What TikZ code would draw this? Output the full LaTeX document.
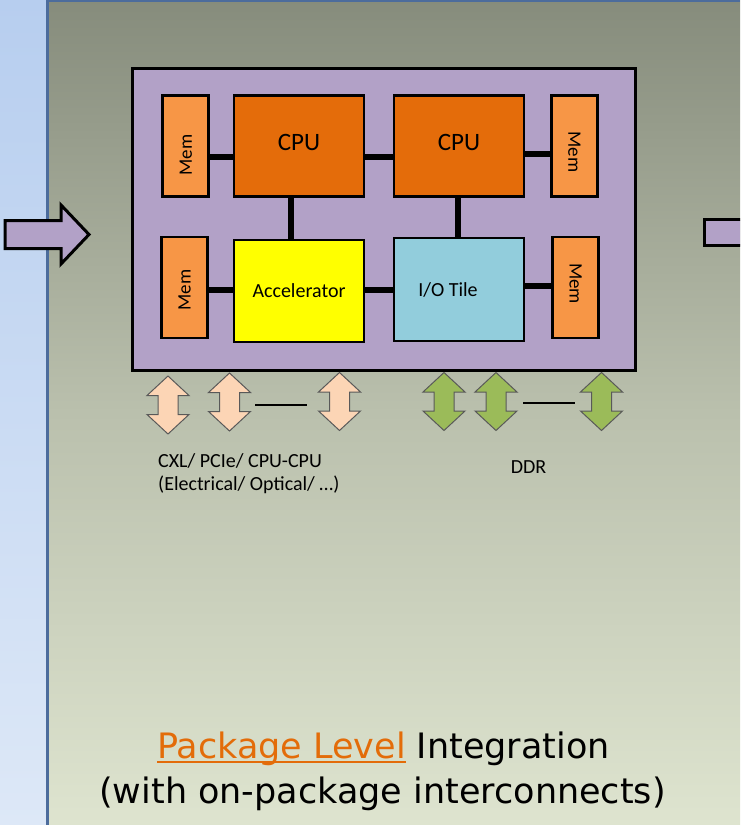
\documentclass[tikz,border=0pt]{standalone}
\usepackage{fontspec}
\setmainfont{Carlito}
\newfontfamily\dejavu{DejaVu Sans}

\definecolor{stripTop}{RGB}{183,206,239}
\definecolor{stripBot}{RGB}{221,232,247}
\definecolor{panelTop}{RGB}{134,140,124}
\definecolor{panelMid}{RGB}{186,192,173}
\definecolor{panelBot}{RGB}{222,228,207}
\definecolor{edgeBlue}{RGB}{76,108,156}
\definecolor{pkgPurple}{RGB}{178,161,199}
\definecolor{cpuOrange}{RGB}{228,108,10}
\definecolor{memOrange}{RGB}{247,150,70}
\definecolor{accYellow}{RGB}{255,255,0}
\definecolor{ioBlue}{RGB}{146,205,220}
\definecolor{peach}{RGB}{252,213,181}
\definecolor{ddrGreen}{RGB}{155,187,89}
\definecolor{titleOrange}{RGB}{227,108,9}

% orange, underlined words of the caption
\newcommand{\ulorange}[1]{{\sbox0{\color{titleOrange}#1}%
  \rlap{\color{titleOrange}\rule[-5pt]{\wd0}{2pt}}\usebox0}}

\tikzset{
  block/.style={draw=black, line width=2.6pt, inner sep=0pt},
  cpubox/.style={block, fill=cpuOrange, minimum width=130pt, minimum height=101pt,
    font=\fontsize{25}{30}\selectfont, text depth=6.5pt},
  tilebox/.style={block, minimum width=130pt, minimum height=101pt,
    font=\fontsize{20}{24}\selectfont},
  membox/.style={block, fill=memOrange, minimum width=101pt, minimum height=46pt,
    font=\fontsize{19}{23}\selectfont},
  link/.style={line width=6pt, draw=black},
  dash link/.style={line width=1.1pt, draw=black},
  peacharrow/.style={fill=peach, draw=black!65, line width=1pt, line join=miter},
  greenarrow/.style={fill=ddrGreen, draw=black!65, line width=1pt, line join=miter},
  smalltext/.style={inner sep=0pt, font=\fontsize{20}{24}\selectfont},
  caption/.style={inner sep=0pt, font=\dejavu\fontsize{35}{42}\selectfont},
  dblarrow/.pic={
    \path[pic actions] (0,-29) -- (21,-9.5) -- (10,-9.5) -- (10,9.5) -- (21,9.5)
      -- (0,29) -- (-21,9.5) -- (-10,9.5) -- (-10,-9.5) -- (-21,-9.5) -- cycle;
  }
}

\begin{document}
\begin{tikzpicture}[x=1pt, y=-1pt]
\useasboundingbox (0,0) rectangle (740,825);
\clip (0,0) rectangle (740,825);

% backdrop: side strip and slide panel
\fill[top color=stripTop, bottom color=stripBot] (0,0) rectangle (48,825);
\fill[top color=panelTop, bottom color=panelBot, middle color=panelMid] (48,0) rectangle (740,825);
\draw[edgeBlue, line width=2.5pt] (47.5,825) -- (47.5,0);
\draw[edgeBlue, line width=1.5pt] (47,0.75) -- (740,0.75);

% block arrows entering and leaving the panel
\draw[line width=3pt, fill=pkgPurple, line join=miter]
  (5,220.5) -- (61,220.5) -- (61,205) -- (89,234.5) -- (61,264) -- (61,248.5) -- (5,248.5) -- cycle;
\draw[line width=3pt, fill=pkgPurple] (704,219.5) rectangle (760,245.5);

% package substrate
\node[block, fill=pkgPurple, minimum width=503pt, minimum height=302pt] (pkg) at (384,219.5) {};

% tiles
\node[membox, rotate=90]  (mem1) at (185.75,146) {Mem\hspace*{18pt}};
\node[cpubox]             (cpu1) at (299,146) {CPU};
\node[cpubox]             (cpu2) at (459,146) {CPU};
\node[membox, rotate=-90] (mem2) at (574.5,146) {\hspace*{12pt}Mem};
\node[membox, rotate=90]  (mem3) at (184.5,287.5) {Mem\hspace*{5pt}};
\node[tilebox, fill=accYellow, minimum height=102pt] (acc) at (299,291) {Accelerator};
\node[tilebox, fill=ioBlue, minimum height=103pt]    (io)  at (459,289.5) {I/O Tile\hspace*{22pt}};
\node[membox, rotate=-90] (mem4) at (575.7,287.5) {Mem\hspace*{8pt}};

% on-package links
\draw[link] (mem1.south |- 0,157) -- (cpu1.west |- 0,157);
\draw[link] (cpu1.east |- 0,157) -- (cpu2.west |- 0,157);
\draw[link] (cpu2.east |- 0,154) -- (mem2.south |- 0,154);
\draw[link] (cpu1.south -| 290.6,0) -- (acc.north -| 290.6,0);
\draw[link] (cpu2.south -| 458,0) -- (io.north -| 458,0);
\draw[link] (mem3.south |- 0,290) -- (acc.west |- 0,290);
\draw[link] (acc.east |- 0,290) -- (io.west |- 0,290);
\draw[link] (io.east |- 0,286) -- (mem4.south |- 0,286);

% off-package I/O lanes
\pic[peacharrow] at (168,405) {dblarrow};
\pic[peacharrow] at (229.5,402) {dblarrow};
\pic[peacharrow] at (339.5,401.5) {dblarrow};
\coordinate (pa) at (255,405);
\coordinate (pb) at (307,405);
\draw[dash link] (pa) -- (pb);

\pic[greenarrow] at (444,401.5) {dblarrow};
\pic[greenarrow] at (496,401.5) {dblarrow};
\pic[greenarrow] at (601.5,401.5) {dblarrow};
\coordinate (ga) at (523,403);
\coordinate (gb) at (575,403);
\draw[dash link] (ga) -- (gb);

% lane labels
\node[smalltext, anchor=base west] (cxl)  at (158,467) {CXL/ PCIe/ CPU-CPU};
\node[smalltext, anchor=base west] (phy)  at (158,490) {(Electrical/ Optical/ …)};
\node[smalltext, anchor=base]      (ddr)  at (528.5,473) {DDR};

% caption
\node[caption, anchor=base] (cap1) at (383.5,758) {\ulorange{Package Level} Integration};
\node[caption, anchor=base] (cap2) at (382.5,803) {(with on-package interconnects)};
\end{tikzpicture}
\end{document}
